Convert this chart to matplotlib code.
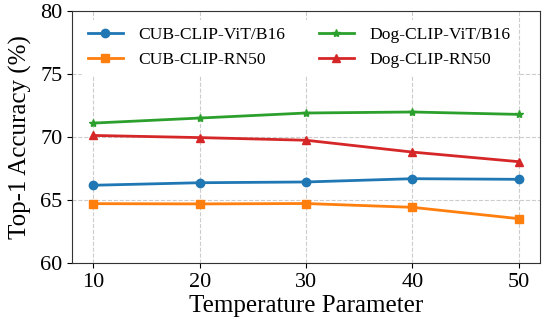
import matplotlib
matplotlib.use("Agg")
import matplotlib.pyplot as plt

temps = [10, 20, 30, 40, 50]
cub_vit = [66.17, 66.37, 66.43, 66.69, 66.64]
cub_rn50 = [64.71, 64.69, 64.72, 64.42, 63.52]
dog_vit = [71.10, 71.50, 71.90, 71.98, 71.79]
dog_rn50 = [70.12, 69.95, 69.74, 68.80, 68.04]

plt.rcParams['font.family'] = ['Liberation Serif', 'DejaVu Serif']

fig = plt.figure(figsize=(5.46, 3.2), dpi=100)
ax = fig.add_axes([0.132, 0.178, 0.857, 0.788])

ax.plot(temps, cub_vit, color='#1f77b4', marker='o', lw=2, ms=6, label='CUB-CLIP-ViT/B16')
ax.plot(temps, cub_rn50, color='#ff7f0e', marker='s', lw=2, ms=6, label='CUB-CLIP-RN50')
ax.plot(temps, dog_vit, color='#2ca02c', marker='*', lw=2, ms=6, label='Dog-CLIP-ViT/B16')
ax.plot(temps, dog_rn50, color='#d62728', marker='^', lw=2, ms=6, label='Dog-CLIP-RN50')

ax.set_ylim(60, 80)
ax.set_xlim(8, 52)
ax.set_xticks(temps)
ax.set_yticks([60, 65, 70, 75, 80])
ax.tick_params(labelsize=16)
ax.set_xlabel('Temperature Parameter', fontsize=18, labelpad=2)
ax.set_ylabel('Top-1 Accuracy (%)', fontsize=18, labelpad=6)
ax.grid(True, linestyle='--', color='#cccccc', lw=0.8)
for s in ax.spines.values():
    s.set_color('#333333')

leg = ax.legend(ncol=2, fontsize=12.6, loc='upper left', bbox_to_anchor=(0.0, 1.0),
                frameon=True, edgecolor='white', framealpha=1, columnspacing=1.9,
                handlelength=2.0, handletextpad=0.9)

fig.savefig('out.png', dpi=100)
